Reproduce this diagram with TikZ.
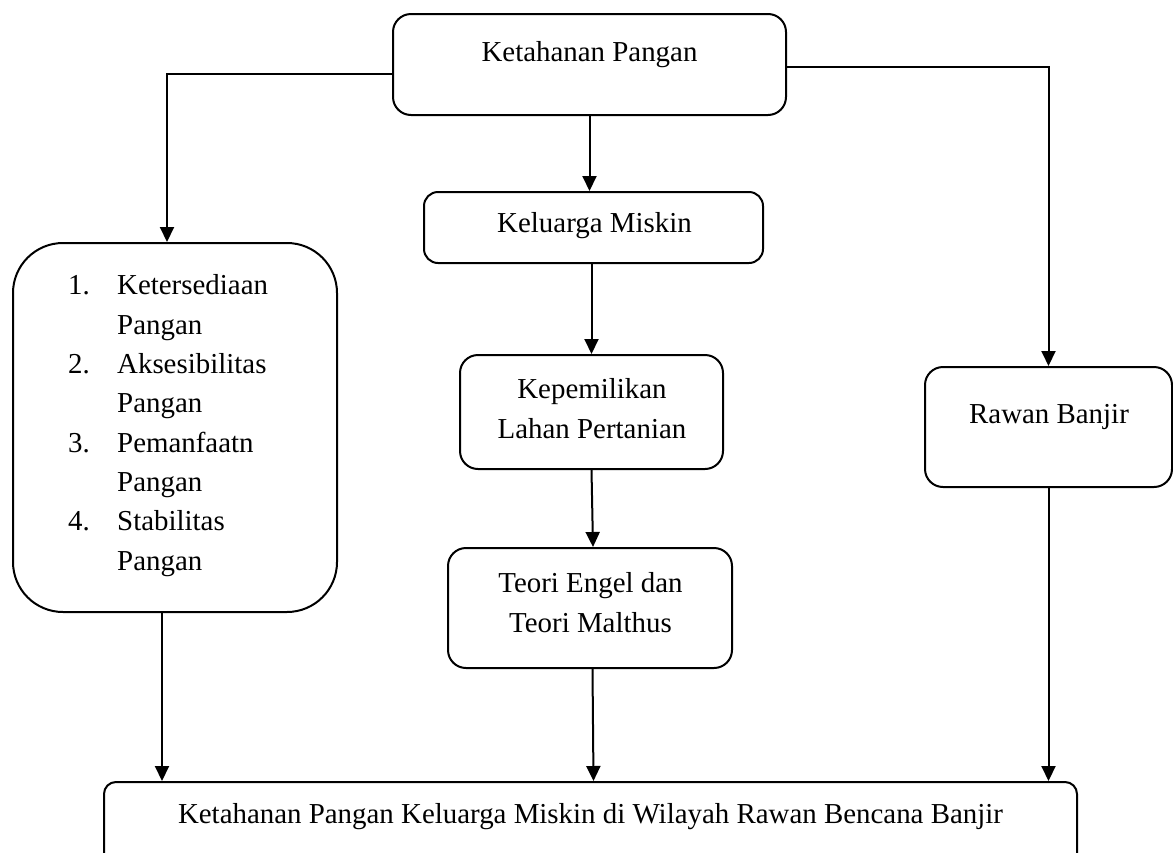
\documentclass[tikz,border=0pt]{standalone}
\usepackage{fontspec}
\setmainfont{Liberation Serif}
\usetikzlibrary{arrows.meta,calc}
\begin{document}
\begin{tikzpicture}[x=1pt,y=-1pt,
  box/.style={draw=black, line width=2pt, rounded corners=#1, inner sep=0pt},
  box/.default=18pt,
  txt/.style={font=\fontsize{28.9}{39.3}\selectfont, inner sep=0pt, anchor=base, align=center},
  arr/.style={line width=2pt, -{Triangle[length=15pt,width=14pt]}}
]
\useasboundingbox (0,0) rectangle (1173,852);
\clip (0,0) rectangle (1173,852);
% boxes
\node[box, minimum width=393pt, minimum height=101pt] (top) at (589.5,64.5) {};
\node[box=14pt, minimum width=339pt, minimum height=71pt] (kel) at (593.5,227.5) {};
\node[box, minimum width=263pt, minimum height=114pt] (kep) at (591.5,412) {};
\node[box, minimum width=284pt, minimum height=120pt] (teo) at (590,608) {};
\node[box=50pt, minimum width=324pt, minimum height=369pt] (lft) at (175,427.5) {};
\node[box, minimum width=247pt, minimum height=120pt] (raw) at (1048.5,427) {};
\node[box=12pt, minimum width=973pt, minimum height=118pt] (bot) at (590.5,841) {};
% texts (anchor base = baseline of the last line)
\node[txt] (ttop) at (589.5,61) {Ketahanan Pangan};
\node[txt] (tkel) at (594.5,232) {Keluarga Miskin};
\node[txt] (tkep) at (592,438) {Kepemilikan\\Lahan Pertanian};
\node[txt] (tteo) at (590.5,632) {Teori Engel dan\\Teori Malthus};
\node[txt] (traw) at (1049,423) {Rawan Banjir};
\node[txt] (tbot) at (590.5,823) {Ketahanan Pangan Keluarga Miskin di Wilayah Rawan Bencana Banjir};
\node[txt, align=left, anchor=base west] (tlft) at (68,570) {%
\makebox[49pt][l]{1.}Ketersediaan\\\hspace*{49pt}Pangan\\
\makebox[49pt][l]{2.}Aksesibilitas\\\hspace*{49pt}Pangan\\
\makebox[49pt][l]{3.}Pemanfaatn\\\hspace*{49pt}Pangan\\
\makebox[49pt][l]{4.}Stabilitas\\\hspace*{49pt}Pangan};
% connectors
\draw[arr] (top.south) -- (top.south |- kel.north);
\draw[arr] (kep.north |- kel.south) -- (kep.north);
\draw[arr] (kep.south) -- ([xshift=1.5pt]kep.south |- teo.north);
\draw[arr] ([xshift=2.5pt]teo.south) -- ([xshift=3.5pt]teo.south |- bot.north);
\draw[arr] ([yshift=-9.5pt]top.west) -| ([xshift=-8pt]lft.north);
\draw[arr] ([yshift=-2.5pt]top.east) -| (raw.north);
\draw[arr] ([xshift=-13pt]lft.south) -- ([xshift=-13pt]lft.south |- bot.north);
\draw[arr] (raw.south) -- (raw.south |- bot.north);
\end{tikzpicture}
\end{document}
